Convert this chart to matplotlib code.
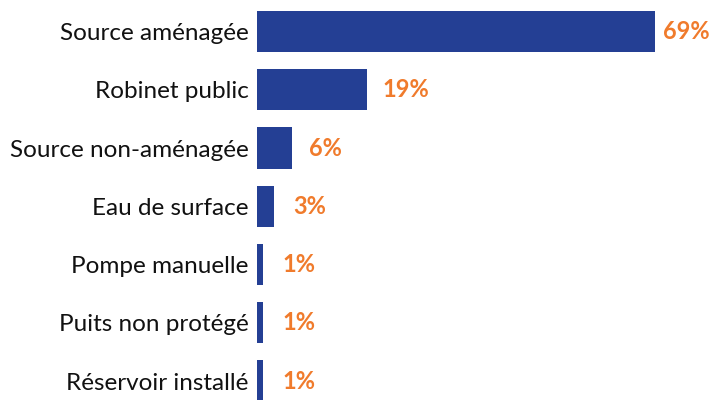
import matplotlib.pyplot as plt

# données
categories = ["Source aménagée", "Robinet public", "Source non-aménagée",
              "Eau de surface", "Pompe manuelle", "Puits non protégé",
              "Réservoir installé"]
values = [69, 19, 6, 3, 1, 1, 1]
labels = ["69%", "19%", "6%", "3%", "1%", "1%", "1%"]

plt.rcParams['font.family'] = ['Lato', 'DejaVu Sans']

fig = plt.figure(figsize=(7.12, 4.0), dpi=100)
# axe de 257 px à 655 px en x, rangées de 58.25 px
row = 58.25 / 400
top = 1 - (31.5 - row * 400 / 2) / 400
height = 7 * row
ax = fig.add_axes([257 / 712, top - height, 398 / 712, height])

y = range(len(categories))
ax.barh(y, values, height=0.71, color='#243F94')
ax.set_xlim(0, 69)
ax.set_ylim(6.5, -0.5)

# écart en pixels entre la barre et l'étiquette
gaps = [8, 16, 17, 19, 20, 20, 20]
for i, (v, lab) in enumerate(zip(values, labels)):
    ax.annotate(lab, (v, i), xytext=(gaps[i] * 0.72, 0), textcoords='offset points',
                va='center', ha='left', color='#F07B2C', fontsize=17,
                fontweight='bold', annotation_clip=False)

ax.set_yticks(list(y))
ax.set_yticklabels(categories, fontsize=17.5, color='#111111')
ax.tick_params(axis='y', length=0, pad=6)
ax.set_xticks([])
for s in ax.spines.values():
    s.set_visible(False)

fig.savefig("out.png", dpi=100)
